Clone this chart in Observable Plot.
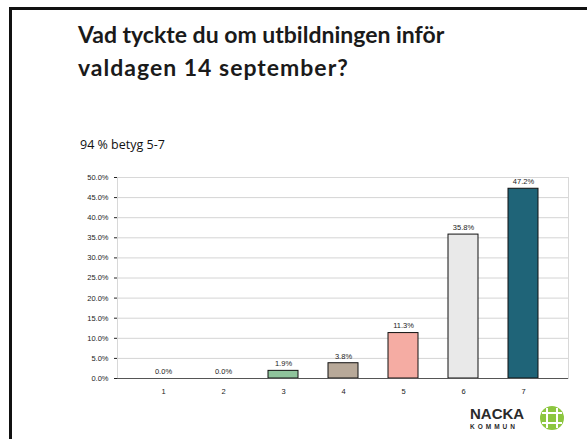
<!DOCTYPE html>
<html>
<head>
<meta charset="utf-8">
<script src="https://cdn.jsdelivr.net/npm/d3@7"></script>
<script src="https://cdn.jsdelivr.net/npm/@observablehq/plot@0.6"></script>
<style>
  html, body { margin: 0; padding: 0; background: #fff; overflow: hidden; width: 587px; height: 439px; }
  #page { position: relative; width: 587px; height: 439px; overflow: hidden; background: #fff; }
  #frameL { position: absolute; left: 9px; top: 7px; width: 3px; height: 432px; background: #111; }
  #frameT { position: absolute; left: 9px; top: 7px; width: 578px; height: 3px; background: #111; }
  #title { position: absolute; left: 78px; top: 18px; font-family: Lato, "Open Sans", sans-serif; font-weight: 700; font-size: 23px; line-height: 33px; color: #1a1a1a; white-space: nowrap; }
  #title .l2 { letter-spacing: 1px; }
  #subtitle { position: absolute; left: 80px; top: 136px; font-family: "Open Sans", Lato, sans-serif; font-size: 12.5px; color: #111; }
  #chart { position: absolute; left: 0; top: 160px; width: 587px; }
  #logo { position: absolute; left: 468px; top: 402px; }
</style>
</head>
<body>
<div id="page">
  <div id="frameL"></div>
  <div id="frameT"></div>
  <div id="title">Vad tyckte du om utbildningen inför<br><span class="l2">valdagen 14 september?</span></div>
  <div id="subtitle">94 % betyg 5-7</div>
  <div id="chart"></div>
  <svg id="logo" width="110" height="34">
    <text x="2" y="17" font-family="Liberation Sans, Arial, sans-serif" font-weight="700" font-size="15" fill="#2a2a2a" letter-spacing="0">NACKA</text>
    <text x="2" y="27" font-family="Liberation Sans, Arial, sans-serif" font-weight="700" font-size="6.5" fill="#2a2a2a" letter-spacing="3">KOMMUN</text>
    <circle cx="84" cy="16" r="12" fill="#8cc63f"/>
    <g stroke="#fff" stroke-width="2" fill="none">
      <line x1="79" y1="6" x2="79" y2="26"/>
      <line x1="89" y1="6" x2="89" y2="26"/>
      <line x1="74" y1="11" x2="94" y2="11"/>
      <line x1="74" y1="21" x2="94" y2="21"/>
    </g>
  </svg>
</div>
<script>
const categories = ["1", "2", "3", "4", "5", "6", "7"];
const values = [0.0, 0.0, 1.9, 3.8, 11.3, 35.8, 47.2];
const colors = ["#cccccc", "#cccccc", "#8fc49c", "#b8a999", "#f5aca3", "#e9e9e9", "#1f6478"];
const yTicks = [0, 5, 10, 15, 20, 25, 30, 35, 40, 45, 50];

const data = categories.map((c, i) => ({cat: c, value: values[i], color: colors[i]}));
const fmt = v => v.toFixed(1) + "%";

const chart = Plot.plot({
  width: 587,
  height: 250,
  marginLeft: 117,
  marginRight: 19,
  marginTop: 17,
  marginBottom: 32,
  style: {fontFamily: "Liberation Sans, Arial, sans-serif", fontSize: "7.5px", color: "#222", background: "transparent"},
  x: {domain: categories, padding: 0.5, label: null, tickSize: 0, tickPadding: 10},
  y: {domain: [0, 50], ticks: yTicks, tickFormat: fmt, label: null, tickSize: 3, tickPadding: 6},
  marks: [
    Plot.gridY(yTicks, {stroke: "#d4d4d4", strokeOpacity: 1}),
    Plot.frame({stroke: "#d8d8d8"}),
    Plot.barY(data.filter(d => d.value > 0), {x: "cat", y: "value", fill: "color", stroke: "#111", strokeWidth: 1}),
    Plot.ruleY([0], {stroke: "#555"}),
    Plot.text(data, {x: "cat", y: "value", text: d => fmt(d.value), dy: -7, fill: "#222", fontSize: 7.5})
  ]
});
document.getElementById("chart").appendChild(chart);
</script>
</body>
</html>
